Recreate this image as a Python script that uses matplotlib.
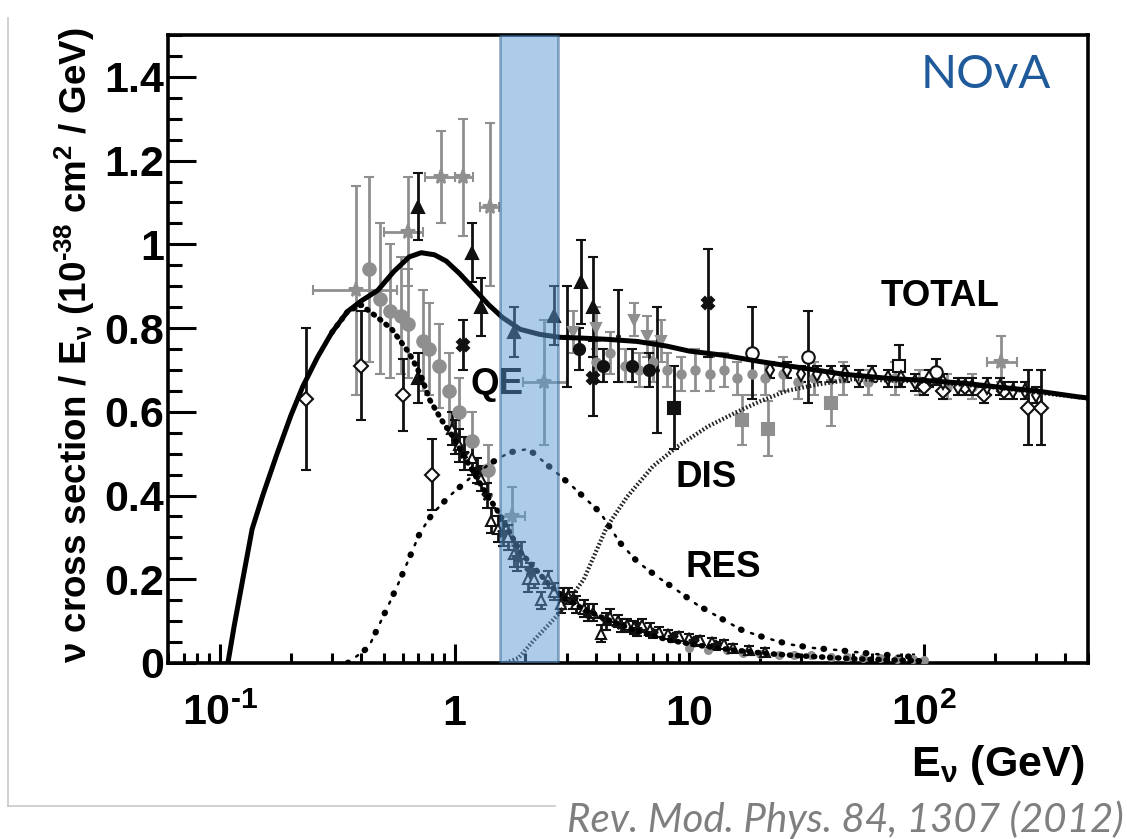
import matplotlib
matplotlib.use("Agg")
import matplotlib.pyplot as plt
from matplotlib.lines import Line2D
import numpy as np

# ---------------- data ----------------
# curves
total_E = [0.108, 0.115, 0.125, 0.137, 0.152, 0.175, 0.2, 0.225, 0.26, 0.3, 0.35, 0.4, 0.47, 0.55,
           0.64, 0.72, 0.82, 0.92, 1.05, 1.2, 1.4, 1.6, 1.9, 2.3, 2.8, 3.5, 4.5, 6, 8, 10, 14, 20,
           30, 45, 70, 100, 150, 200, 300, 450, 500]
total_y = [0.0, 0.09, 0.20, 0.32, 0.40, 0.50, 0.59, 0.66, 0.73, 0.79, 0.84, 0.865, 0.89, 0.935,
           0.97, 0.98, 0.975, 0.96, 0.93, 0.895, 0.855, 0.825, 0.797, 0.785, 0.778, 0.776, 0.773,
           0.768, 0.757, 0.745, 0.735, 0.72, 0.705, 0.69, 0.68, 0.675, 0.668, 0.66, 0.65, 0.636, 0.633]

qe_E = [0.30, 0.35, 0.40, 0.47, 0.54, 0.64, 0.72, 0.78, 0.88, 0.99, 1.16, 1.33, 1.54, 1.92, 2.5,
        2.9, 3.5, 4.2, 5.8, 8.1, 11, 15.4, 22, 30, 50, 100]
qe_y = [0.79, 0.84, 0.855, 0.825, 0.797, 0.74, 0.685, 0.63, 0.58, 0.538, 0.47, 0.414, 0.359, 0.263,
        0.19, 0.158, 0.13, 0.11, 0.079, 0.055, 0.042, 0.031, 0.022, 0.017, 0.01, 0.005]

res_E = [0.35, 0.43, 0.53, 0.585, 0.71, 0.80, 0.955, 1.18, 1.45, 1.71, 2.0, 2.16, 2.62, 3.2, 4.16,
         5.07, 6.0, 7.3, 8.8, 10.8, 13.5, 16.7, 20.6, 26.4, 33.6, 42.6, 60, 93]
res_y = [0.0, 0.038, 0.146, 0.199, 0.31, 0.355, 0.40, 0.445, 0.48, 0.503, 0.51, 0.502, 0.462, 0.42,
         0.36, 0.287, 0.242, 0.206, 0.175, 0.139, 0.108, 0.079, 0.062, 0.045, 0.036, 0.031, 0.022, 0.014]

dis_E = [1.65, 1.87, 2.18, 2.5, 2.8, 3.2, 3.55, 4.45, 5.43, 7.0, 8.9, 12, 16, 20, 26, 35, 50,
         70, 100, 200, 500]
dis_y = [0.0, 0.012, 0.055, 0.09, 0.12, 0.165, 0.20, 0.325, 0.397, 0.47, 0.517, 0.565, 0.60,
         0.625, 0.65, 0.665, 0.678, 0.675, 0.672, 0.658, 0.632]

# data points
gstar_E = [0.38, 0.63, 0.87, 1.09, 1.42, 1.75, 2.4, 212]
gstar_y = [0.89, 1.03, 1.16, 1.16, 1.09, 0.35, 0.67, 0.72]
gstar_ylo = [0.25, 0.13, 0.11, 0.14, 0.19, 0.07, 0.15, 0.05]
gstar_yhi = [0.25, 0.13, 0.11, 0.14, 0.20, 0.07, 0.15, 0.06]
gstar_xlo = [0.25, 0.50, 0.75, 1.00, 1.28, 1.55, 1.95, 185]
gstar_xhi = [0.57, 0.73, 1.00, 1.20, 1.55, 2.00, 3.00, 250]

gcirc_E = [0.43, 0.48, 0.53, 0.59, 0.63, 0.73, 0.78, 0.86, 0.95, 1.04, 1.18, 1.39]
gcirc_y = [0.94, 0.87, 0.84, 0.83, 0.81, 0.77, 0.75, 0.71, 0.65, 0.60, 0.53, 0.46]
gcirc_err = [0.22, 0.18, 0.16, 0.14, 0.13, 0.12, 0.11, 0.10, 0.09, 0.08, 0.07, 0.06]

btri_E = [0.70, 0.70, 1.18, 1.29, 1.79, 2.65, 3.45, 3.9]
btri_y = [1.09, 0.68, 0.98, 0.85, 0.79, 0.83, 0.91, 0.85]
btri_err = [0.08, 0.06, 0.07, 0.07, 0.06, 0.07, 0.10, 0.12]

odia_E = [0.232, 0.40, 0.60, 0.80, 100, 120, 150, 180, 220, 278, 314]
odia_y = [0.63, 0.71, 0.64, 0.45, 0.66, 0.65, 0.66, 0.64, 0.65, 0.61, 0.61]
odia_err = [0.17, 0.13, 0.085, 0.085, 0.02, 0.02, 0.02, 0.02, 0.02, 0.09, 0.09]

bcirc_E = [3.4, 4.3, 5.7, 6.75]
bcirc_y = [0.75, 0.71, 0.71, 0.70]
bcirc_err = [0.05, 0.04, 0.04, 0.04]

bx_E = [1.09, 3.87, 12.0]
bx_y = [0.76, 0.68, 0.86]
bx_err = [0.06, 0.09, 0.13]

bsq_E = [8.6]
bsq_y = [0.61]
bsq_err = [0.10]

gsq_E = [16.8, 21.6, 40]
gsq_y = [0.58, 0.56, 0.62]
gsq_err = [0.06, 0.065, 0.055]

ocirc_E = [18.5, 32.0, 113]
ocirc_y = [0.74, 0.73, 0.695]
ocirc_err = [0.11, 0.11, 0.03]

osq_E = [78]
osq_y = [0.71]
osq_err = [0.05]

bbar_E = [3.0, 4.95, 7.3]
bbar_y = [0.78, 0.78, 0.70]
bbar_err = [0.12, 0.11, 0.15]

gtri_E = [3.2, 4.0, 5.8, 6.6, 7.6]
gtri_y = [0.79, 0.80, 0.82, 0.78, 0.77]
gtri_err = [0.05, 0.05, 0.04, 0.05, 0.05]

ghi_E = [4.0, 4.6, 5.3, 6.1, 7.0, 8.0, 9.2, 10.6, 12.2, 14, 16, 18.5, 21, 25, 29, 34, 45, 58, 75,
         95, 125, 160]
ghi_y = [0.72, 0.74, 0.71, 0.70, 0.72, 0.70, 0.69, 0.70, 0.69, 0.70, 0.68, 0.69, 0.68, 0.69, 0.67,
         0.68, 0.68, 0.67, 0.68, 0.67, 0.66, 0.66]
ghi_err = [0.05, 0.05, 0.04, 0.04, 0.05, 0.04, 0.04, 0.05, 0.04, 0.04, 0.04, 0.05, 0.04, 0.04, 0.04,
           0.04, 0.04, 0.03, 0.04, 0.03, 0.03, 0.03]

bhi_E = [22, 26, 30, 35, 40, 46, 53, 60, 70, 80, 92, 105, 120, 140, 160, 185, 210, 240, 270, 300]
bhi_y = [0.70, 0.70, 0.69, 0.69, 0.69, 0.69, 0.68, 0.69, 0.68, 0.68, 0.67, 0.68, 0.67, 0.66, 0.66,
         0.66, 0.66, 0.65, 0.65, 0.64]
bhi_err = [0.02, 0.02, 0.02, 0.02, 0.02, 0.02, 0.02, 0.02, 0.02, 0.02, 0.02, 0.02, 0.02, 0.02, 0.02,
           0.02, 0.02, 0.02, 0.02, 0.02]

qed_E = [0.97, 1.04, 1.18, 1.30, 1.43, 1.53, 1.69, 1.79, 1.92, 2.06, 2.18, 2.34, 2.5, 2.65, 2.85,
         3.04, 3.3, 3.55, 3.9, 4.2, 4.6, 4.95, 5.4, 5.8, 6.3, 6.8, 7.4, 8.1, 9.0, 10, 11.1, 12.5,
         14, 15.4, 18, 21]
qed_y = [0.56, 0.52, 0.49, 0.44, 0.34, 0.32, 0.30, 0.26, 0.26, 0.20, 0.20, 0.15, 0.20, 0.17, 0.14,
         0.16, 0.14, 0.13, 0.12, 0.07, 0.11, 0.10, 0.09, 0.085, 0.09, 0.08, 0.075, 0.07, 0.065,
         0.06, 0.055, 0.05, 0.045, 0.036, 0.03, 0.026]
qed_err = [0.04, 0.04, 0.04, 0.03, 0.03, 0.03, 0.03, 0.03, 0.03, 0.03, 0.02, 0.02, 0.02, 0.02, 0.02,
           0.02, 0.02, 0.02, 0.02, 0.02, 0.02, 0.015, 0.015, 0.015, 0.015, 0.015, 0.01, 0.01, 0.01,
           0.01, 0.01, 0.01, 0.01, 0.01, 0.01, 0.01]

qeb_E = [1.0, 1.1, 1.25, 1.37, 1.6, 1.85, 2.1, 2.9, 3.2, 3.7, 4.4, 5.1, 6.0, 7.0, 8.5, 10.5, 13]
qeb_y = [0.54, 0.50, 0.46, 0.40, 0.31, 0.25, 0.22, 0.16, 0.15, 0.12, 0.10, 0.09, 0.08, 0.07, 0.06,
         0.05, 0.04]
qeb_err = [0.04, 0.04, 0.03, 0.03, 0.03, 0.03, 0.02, 0.02, 0.02, 0.02, 0.02, 0.015, 0.015, 0.01,
           0.01, 0.01, 0.01]

gzero_E = [10, 12, 14.5, 17, 20, 24, 28, 33, 40, 47, 55, 65, 77, 90, 100]
gzero_y = [0.035, 0.03, 0.03, 0.025, 0.022, 0.02, 0.02, 0.018, 0.015, 0.014, 0.012, 0.012, 0.01,
           0.01, 0.008]

band_E = [1.56, 2.76]

x_ticks = [0.1, 1, 10, 100]
x_ticklabels = ['10$^{\\text{-}1}$', '1', '10', '10$^{2}$']
y_ticks = [0, 0.2, 0.4, 0.6, 0.8, 1.0, 1.2, 1.4]
y_ticklabels = ['0', '0.2', '0.4', '0.6', '0.8', '1', '1.2', '1.4']

# ---------------- style ----------------
plt.rcParams['font.family'] = ['Liberation Sans', 'DejaVu Sans']
plt.rcParams['font.weight'] = 'bold'
plt.rcParams['mathtext.fontset'] = 'custom'
plt.rcParams['mathtext.rm'] = 'Liberation Sans:bold'
plt.rcParams['mathtext.it'] = 'Liberation Sans:bold'
plt.rcParams['mathtext.bf'] = 'Liberation Sans:bold'
plt.rcParams['mathtext.default'] = 'rm'

W, H = 1127, 839
fig = plt.figure(figsize=(W / 100, H / 100), dpi=100)
ax = fig.add_axes([168 / W, 1 - 663 / H, 920 / W, (663 - 35) / H])
ax.set_xscale('log')
ax.set_xlim(0.06, 500)
ax.set_ylim(0, 1.5)

BLK = '#111111'
GRY = '#8f8f8f'


def eb(x, y, yerr, fmt, color, mfc=None, ms=7, xerr=None, mew=1.5, z=3):
    ax.errorbar(x, y, yerr=yerr, xerr=xerr, fmt=fmt, color=color, ecolor=color,
                mfc=mfc if mfc is not None else color, mec=color, ms=ms, mew=mew,
                elinewidth=2, capsize=3.5, capthick=2, zorder=z)


# gray points
eb(gstar_E, gstar_y, [gstar_ylo, gstar_yhi], '*', GRY, ms=11,
   xerr=[np.array(gstar_E) - np.array(gstar_xlo), np.array(gstar_xhi) - np.array(gstar_E)])
eb(gcirc_E, gcirc_y, gcirc_err, 'o', GRY, ms=9)
eb(gsq_E, gsq_y, gsq_err, 's', GRY, ms=8)
eb(gtri_E, gtri_y, gtri_err, 'v', GRY, ms=7)
eb(ghi_E, ghi_y, ghi_err, 'o', GRY, ms=6)
eb(gzero_E, gzero_y, None, 'o', GRY, ms=5)

# black points
eb(btri_E, btri_y, btri_err, '^', BLK, ms=8)
eb(odia_E, odia_y, odia_err, 'D', BLK, mfc='white', ms=7)
eb(bcirc_E, bcirc_y, bcirc_err, 'o', BLK, ms=8)
eb(bx_E, bx_y, bx_err, 'X', BLK, ms=9)
eb(bsq_E, bsq_y, bsq_err, 's', BLK, ms=8)
eb(ocirc_E, ocirc_y, ocirc_err, 'o', BLK, mfc='white', ms=9)
eb(osq_E, osq_y, osq_err, 's', BLK, mfc='white', ms=8)
eb(bbar_E, bbar_y, bbar_err, '.', BLK, ms=4)
eb(bhi_E, bhi_y, bhi_err, 'd', BLK, mfc='white', ms=7)
eb(qed_E, qed_y, qed_err, '^', BLK, mfc='white', ms=7)
eb(qeb_E, qeb_y, qeb_err, '*', BLK, ms=8)

# curves
ax.plot(total_E, total_y, color='black', lw=3.6, zorder=6, solid_capstyle='round')
ax.plot(qe_E, qe_y, color='black', lw=4.0, linestyle=(0, (0.2, 1.25)),
        dash_capstyle='round', zorder=5)
ax.plot(res_E, res_y, color='black', lw=4.5, linestyle=(0, (0.1, 3.3)),
        dash_capstyle='round', zorder=5)
ax.plot(res_E, res_y, color='black', lw=1.8, linestyle=(4.25, (0.9, 7.6)),
        dash_capstyle='round', zorder=5)
ax.plot(dis_E, dis_y, color='#222222', lw=3.0, linestyle=(0, (0.4, 0.5)), zorder=5)

# band
ax.axvspan(band_E[0], band_E[1], facecolor='#5b9bd5', alpha=0.5, edgecolor='#2f5f8f',
           lw=2, zorder=10)

# labels inside
lab_kw = dict(fontsize=26.5, fontweight='bold', ha='center', va='center', zorder=8)
ax.text(117, 0.876, 'TOTAL', **lab_kw)
ax.text(1.51, 0.665, 'QE', **lab_kw)
ax.text(11.8, 0.443, 'DIS', **lab_kw)
ax.text(13.9, 0.227, 'RES', **lab_kw)

# axes styling
for s in ax.spines.values():
    s.set_linewidth(2.6)
ax.tick_params(which='both', direction='in', top=False, right=False)
ax.tick_params(axis='y', which='major', length=20, width=2.2, labelsize=31, pad=3)
ax.tick_params(axis='y', which='minor', length=10, width=2.2)
ax.tick_params(axis='x', which='major', length=14, width=2.2, labelsize=31, pad=22)
ax.tick_params(axis='x', which='minor', length=7, width=2.2)
ax.set_yticks(y_ticks)
ax.set_yticklabels(y_ticklabels)
ax.yaxis.set_minor_locator(matplotlib.ticker.MultipleLocator(0.05))
ax.set_xticks(x_ticks)
ax.set_xticklabels(x_ticklabels)
ax.xaxis.set_minor_locator(matplotlib.ticker.LogLocator(base=10, subs=np.arange(2, 10)))
ax.xaxis.set_minor_formatter(matplotlib.ticker.NullFormatter())
for t in ax.get_xticklabels() + ax.get_yticklabels():
    t.set_fontweight('bold')

fig.text(75 / W, 1 - 345 / H, 'ν cross section / E$_{ν}$ (10$^{\\text{-}38}$ cm$^{2}$ / GeV)',
         rotation=90, ha='center', va='center', fontsize=26.5, fontweight='bold')
fig.text(1085 / W, 1 - 765 / H, 'E$_{ν}$ (GeV)', ha='right', va='center', fontsize=31,
         fontweight='bold')

fig.text(986 / W, 1 - 75 / H, 'NOvA', ha='center', va='center', fontsize=34,
         color='#1f5a9a', family='Lato', fontweight='normal')
fig.text(1124 / W, 1 - 820 / H, 'Rev. Mod. Phys. 84, 1307 (2012)', ha='right', va='center',
         fontsize=29, color='#7f7f7f', family='Lato', fontstyle='italic', fontweight='normal')

fig.add_artist(Line2D([8 / W, 8 / W], [1 - 18 / H, 1 - 806 / H], color='#c8c8c8', lw=1.2))
fig.add_artist(Line2D([8 / W, 555 / W], [1 - 806 / H, 1 - 806 / H], color='#c8c8c8', lw=1.2))

fig.savefig('out.png', dpi=100)
